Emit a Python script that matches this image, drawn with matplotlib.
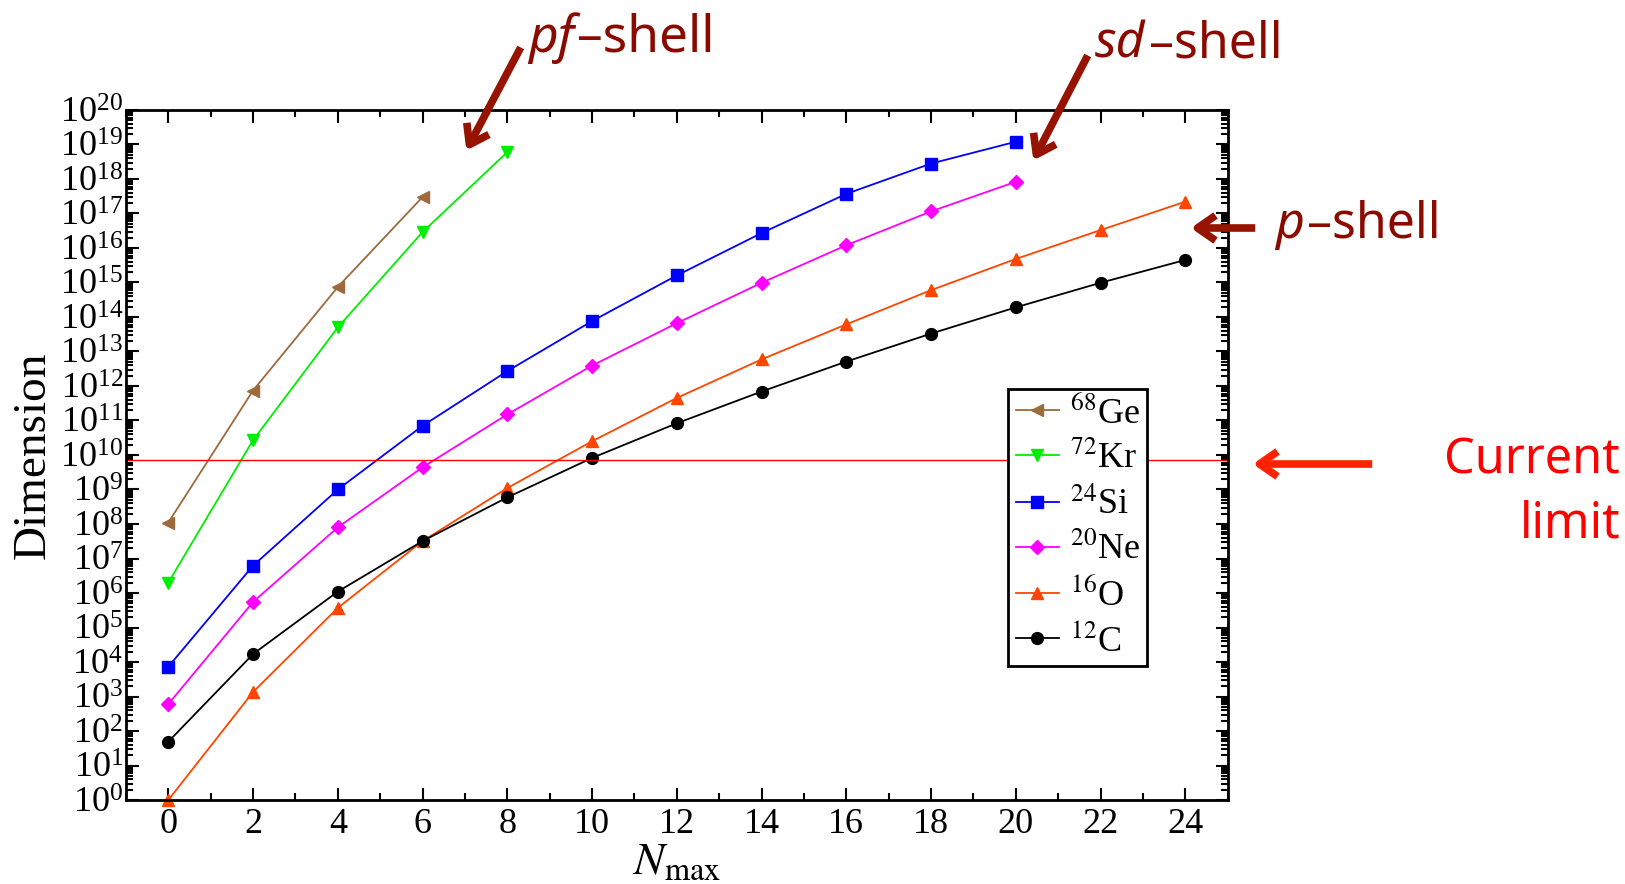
""" NCSM basis dimension vs Nmax """
import numpy as np
import matplotlib
matplotlib.use("Agg")
import matplotlib.pyplot as plt
from matplotlib.patches import FancyArrowPatch
from matplotlib.ticker import LogLocator, MultipleLocator, LogFormatterMathtext, NullFormatter

plt.rcParams['font.family'] = ['Liberation Serif', 'DejaVu Serif']
plt.rcParams['mathtext.fontset'] = 'stix'

# data
nmax_ge = [0, 2, 4, 6]
dim_ge = [1.1e8, 7.4e11, 7.4e14, 3.0e17]
nmax_kr = [0, 2, 4, 6, 8]
dim_kr = [2.0e6, 2.7e10, 5.0e13, 2.9e16, 6.0e18]
nmax_si = [0, 2, 4, 6, 8, 10, 12, 14, 16, 18, 20]
dim_si = [7.3e3, 6.2e6, 1.0e9, 7.0e10, 2.7e12, 7.6e13, 1.6e15, 2.7e16, 3.7e17, 2.8e18, 1.2e19]
nmax_ne = [0, 2, 4, 6, 8, 10, 12, 14, 16, 18, 20]
dim_ne = [6.0e2, 5.5e5, 8.0e7, 4.4e9, 1.5e11, 3.9e12, 6.6e13, 9.8e14, 1.2e16, 1.15e17, 8.3e17]
nmax_o = [0, 2, 4, 6, 8, 10, 12, 14, 16, 18, 20, 22, 24]
dim_o = [1.0, 1.35e3, 3.7e5, 3.2e7, 1.1e9, 2.5e10, 4.5e11, 5.9e12, 6.1e13, 6.0e14, 4.8e15, 3.3e16, 2.2e17]
nmax_c = [0, 2, 4, 6, 8, 10, 12, 14, 16, 18, 20, 22, 24]
dim_c = [49, 1.7e4, 1.1e6, 3.2e7, 5.9e8, 8.2e9, 8.3e10, 6.9e11, 5.1e12, 3.3e13, 1.9e14, 9.8e14, 4.5e15]
current_limit = 7e9

series = [
    (nmax_ge, dim_ge, '#9c6a3c', '<', r'$^{68}$Ge'),
    (nmax_kr, dim_kr, '#00ee00', 'v', r'$^{72}$Kr'),
    (nmax_si, dim_si, '#0000ff', 's', r'$^{24}$Si'),
    (nmax_ne, dim_ne, '#ff00ff', 'D', r'$^{20}$Ne'),
    (nmax_o, dim_o, '#ff4500', '^', r'$^{16}$O'),
    (nmax_c, dim_c, '#000000', 'o', r'$^{12}$C'),
]

fig = plt.figure(figsize=(16.25, 8.84), dpi=100)
ax = fig.add_axes([0.0775, 0.095, 0.678, 0.7806])

for x, y, col, mk, lab in series:
    ms = 7.5 if mk == 'D' else 8.5
    ax.plot(x, y, color=col, marker=mk, ms=ms, lw=1.3, label=lab, clip_on=False)

ax.axhline(current_limit, color='red', lw=1)

ax.set_yscale('log')
ax.set_xlim(-1, 25)
ax.set_ylim(1, 1e20)
ax.xaxis.set_major_locator(MultipleLocator(2))
ax.xaxis.set_minor_locator(MultipleLocator(1))
ax.yaxis.set_major_locator(LogLocator(base=10, numticks=30))
ax.yaxis.set_minor_locator(LogLocator(base=10, subs=np.arange(2, 10), numticks=30))
ax.yaxis.set_major_formatter(LogFormatterMathtext())
ax.yaxis.set_minor_formatter(NullFormatter())
ax.tick_params(which='both', direction='in', top=True, right=True, width=1.5)
ax.tick_params(axis='y', labelsize=26, pad=2)
ax.tick_params(axis='x', labelsize=26, pad=6)
ax.tick_params(which='major', length=9)
ax.tick_params(which='minor', length=5)
for s in ax.spines.values():
    s.set_linewidth(2)

ax.set_xlabel(r'$N_{\rm max}$', fontsize=33, labelpad=0)
ax.set_ylabel('Dimension', fontsize=34, labelpad=4)

leg = ax.legend(loc='upper left', bbox_to_anchor=(0.801, 0.596), fontsize=26,
                frameon=True, fancybox=False, edgecolor='black', framealpha=1,
                handlelength=1.2, handletextpad=0.3, borderpad=0.2,
                labelspacing=0.3, borderaxespad=0)
leg.get_frame().set_linewidth(2)

# annotations
dark = '#8b0a00'
arrow_dark = '#961300'
ann_font = 'Noto Sans'


def fx(px):
    return px / 1625


def fy(py):
    return 1 - py / 884


fig.canvas.draw()
renderer = fig.canvas.get_renderer()


def two_part(x0, y0, first, rest, size, color):
    t = fig.text(fx(x0), fy(y0), first, color=color, fontsize=size, va='baseline',
                 ha='left', family=ann_font, style='italic')
    bb = t.get_window_extent(renderer)
    fig.text(bb.x1 / 1625 + 0.002, fy(y0), rest, color=color, fontsize=size,
             va='baseline', ha='left', family=ann_font)


two_part(528, 52, 'pf', '\u2013shell', 37, dark)
two_part(1095, 58, 'sd', '\u2013shell', 36, dark)
two_part(1275, 238, 'p', '\u2013shell', 36, dark)
fig.text(fx(1620), fy(460), 'Current', color='red', fontsize=35, va='center', ha='right', family=ann_font)
fig.text(fx(1620), fy(524), 'limit', color='red', fontsize=35, va='center', ha='right', family=ann_font)

arrows = [
    ((522, 45), (465, 153), arrow_dark),
    ((1089, 53), (1032, 163), arrow_dark),
    ((1258, 228), (1188, 228), arrow_dark),
    ((1375, 464), (1250, 464), '#ff2200'),
]
for (x0, y0), (x1, y1), col in arrows:
    fig.add_artist(FancyArrowPatch(
        (fx(x0), fy(y0)), (fx(x1), fy(y1)), transform=fig.transFigure,
        arrowstyle='->,head_length=13,head_width=9', lw=5.5, color=col,
        mutation_scale=1, capstyle='butt'))

fig.savefig('out.png', dpi=100)
